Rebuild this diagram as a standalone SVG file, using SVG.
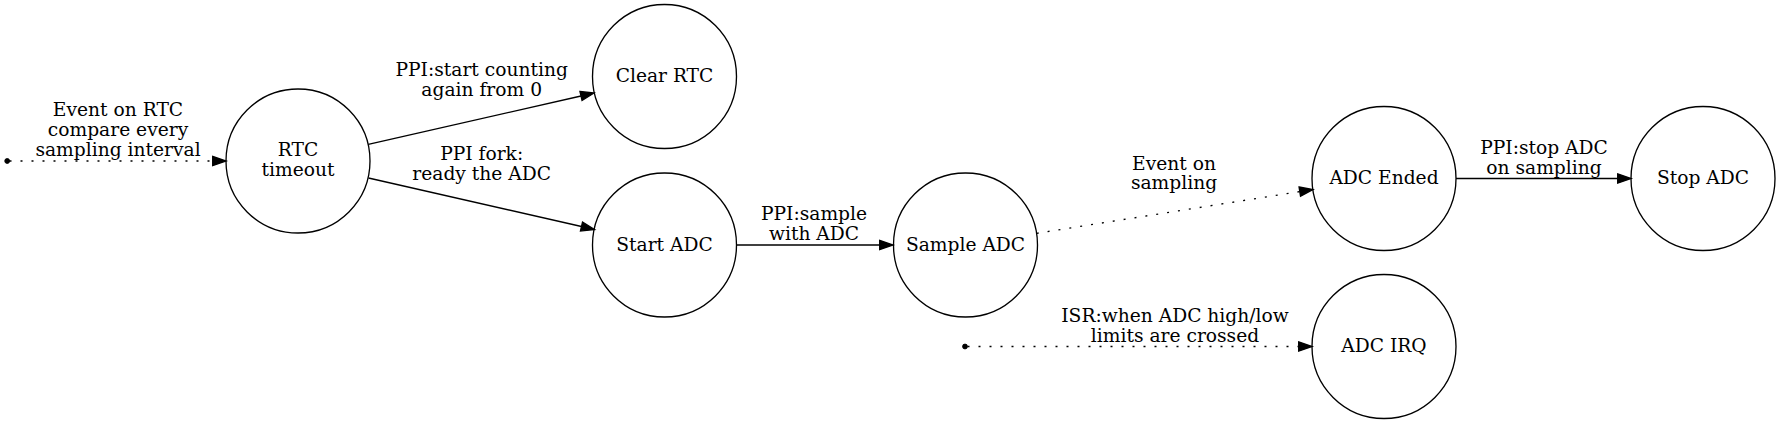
<svg xmlns="http://www.w3.org/2000/svg" width="1783" height="424" viewBox="0 0 1783 424">
<style>
.node circle{fill:none;stroke:#000;stroke-width:1.33}
text{font-family:"DejaVu Serif","Liberation Serif",serif;font-size:18.67px;fill:#000;text-anchor:middle}
.edge{fill:none;stroke:#000;stroke-width:1.33}
.dotted{stroke-dasharray:2,9}
.pt{fill:#000;stroke:#000;stroke-width:1}
</style>
<defs>
<marker id="arr" viewBox="0 0 10 7" markerWidth="13.33" markerHeight="9.33" markerUnits="userSpaceOnUse" refX="0" refY="3.5" orient="auto" overflow="visible">
<path d="M0,0 L10,3.5 L0,7 z" fill="#000" stroke="#000" stroke-width="1"/>
</marker>
</defs>
<rect width="1783" height="424" fill="#fff"/>
<g id="connectors">
<path class="edge dotted" d="M9.5,161 L212.7,161" marker-end="url(#arr)"/>
<text x="118" y="116">Event on RTC</text>
<text x="118" y="136">compare every</text>
<text x="118" y="156">sampling interval</text>
<path class="edge" d="M368.3,144.3 L581,96" marker-end="url(#arr)"/>
<text x="481.7" y="75.5">PPI:start counting</text>
<text x="481.7" y="95.5">again from 0</text>
<path class="edge" d="M368.5,178 L581.5,226.5" marker-end="url(#arr)"/>
<text x="481.7" y="160">PPI fork:</text>
<text x="481.7" y="180">ready the ADC</text>
<path class="edge" d="M736.5,245 L879.7,245" marker-end="url(#arr)"/>
<text x="814" y="220">PPI:sample</text>
<text x="814" y="240">with ADC</text>
<path class="edge dotted" d="M1036.7,233.3 L1299.8,191.6" marker-end="url(#arr)"/>
<text x="1174" y="169.5">Event on</text>
<text x="1174" y="189">sampling</text>
<path class="edge" d="M1456,178.5 L1617.7,178.5" marker-end="url(#arr)"/>
<text x="1544" y="153.5">PPI:stop ADC</text>
<text x="1544" y="173.5">on sampling</text>
<path class="edge dotted" d="M967.5,346.5 L1298.7,346.5" marker-end="url(#arr)"/>
<text x="1175" y="322">ISR:when ADC high/low</text>
<text x="1175" y="341.5">limits are crossed</text>
</g>
<g id="src_rtc"><circle class="pt" cx="7.2" cy="161" r="2.4"/></g>
<g id="src_isr"><circle class="pt" cx="965" cy="346.5" r="2.4"/></g>
<g id="rtc_timeout" class="node"><circle cx="298" cy="161" r="72"/><text x="298" y="156">RTC</text><text x="298" y="176">timeout</text></g>
<g id="clear_rtc" class="node"><circle cx="664.5" cy="76.5" r="72"/><text x="664.5" y="82.3">Clear RTC</text></g>
<g id="start_adc" class="node"><circle cx="664.5" cy="245" r="72"/><text x="664.5" y="250.8">Start ADC</text></g>
<g id="sample_adc" class="node"><circle cx="965.5" cy="245" r="72"/><text x="965.5" y="250.8">Sample ADC</text></g>
<g id="adc_ended" class="node"><circle cx="1384" cy="178.5" r="72"/><text x="1384" y="184.3">ADC Ended</text></g>
<g id="stop_adc" class="node"><circle cx="1703" cy="178.5" r="72"/><text x="1703" y="184.3">Stop ADC</text></g>
<g id="adc_irq" class="node"><circle cx="1384" cy="346.5" r="72"/><text x="1384" y="352.3">ADC IRQ</text></g>
</svg>
